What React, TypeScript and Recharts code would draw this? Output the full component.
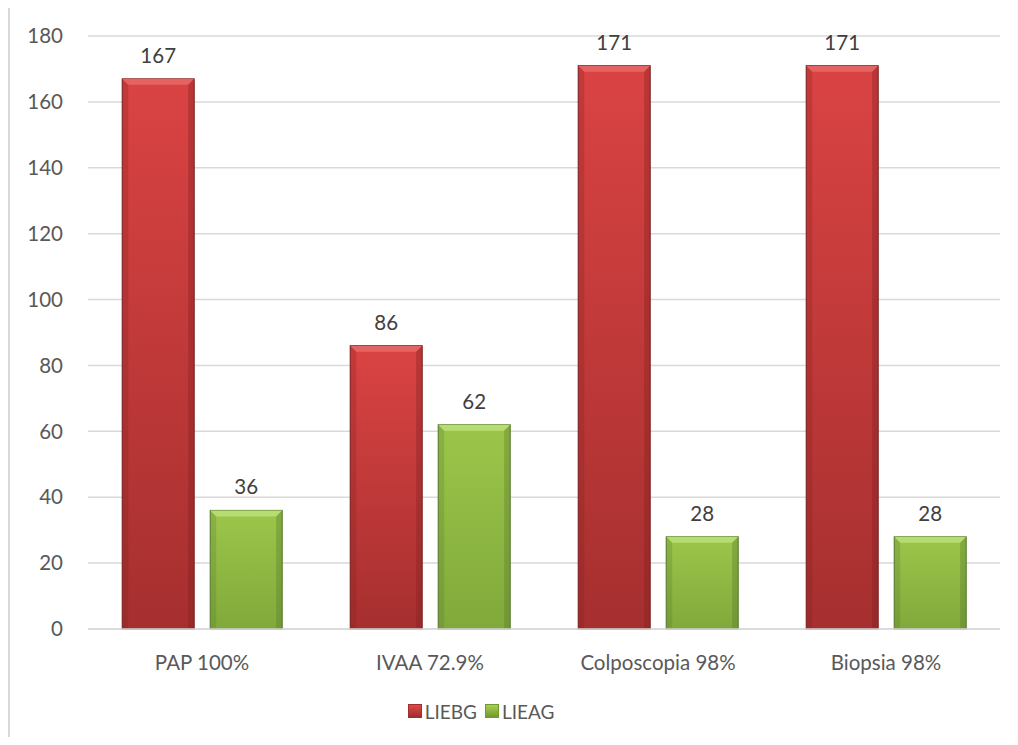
import { BarChart, Bar, XAxis, YAxis, CartesianGrid, LabelList, Legend } from 'recharts';

const categories = ['PAP 100%', 'IVAA 72.9%', 'Colposcopia 98%', 'Biopsia 98%'];
const liebg = [167, 86, 171, 171];
const lieag = [36, 62, 28, 28];
const yTicks = [0, 20, 40, 60, 80, 100, 120, 140, 160, 180];

const data = categories.map((name, i) => ({ name, LIEBG: liebg[i], LIEAG: lieag[i] }));

const FONT = 'Lato, "Open Sans", sans-serif';

// bevelled bar, like the office "soft edge" look
function BevelBar(props: any) {
  const { x, y, width, height, fill, light, dark } = props;
  if (!height || height <= 0) return null;
  const b = Math.min(6, height / 2);
  return (
    <g>
      <rect x={x} y={y} width={width} height={height} fill={fill} stroke={dark} strokeWidth={1} />
      <polygon points={`${x},${y} ${x + width},${y} ${x + width - b},${y + b} ${x + b},${y + b}`} fill={light} />
      <polygon points={`${x},${y} ${x + b},${y + b} ${x + b},${y + height} ${x},${y + height}`} fill={dark} opacity={0.25} />
      <polygon points={`${x + width},${y} ${x + width - b},${y + b} ${x + width - b},${y + height} ${x + width},${y + height}`} fill={dark} opacity={0.35} />
    </g>
  );
}

function LegendBox() {
  const item = (label: string, c1: string, c2: string) => (
    <span style={{ display: 'inline-flex', alignItems: 'center', marginRight: 8 }}>
      <span style={{ width: 12, height: 12, background: `linear-gradient(${c1}, ${c2})`, border: `1px solid ${c2}`, marginRight: 3, display: 'inline-block' }} />
      <span>{label}</span>
    </span>
  );
  return (
    <div style={{ textAlign: 'center', fontFamily: FONT, fontSize: 19, color: '#595959', paddingRight: 58 }}>
      {item('LIEBG', '#e04848', '#a02e2e')}
      {item('LIEAG', '#a8d050', '#6f9a2e')}
    </div>
  );
}

export default function App() {
  return (
    <div style={{ position: 'relative', margin: -8, width: 1018, height: 745, overflow: 'hidden', background: '#fff' }}>
      <div style={{ position: 'absolute', left: 8, top: 6, width: 1030, height: 760, border: '2px solid #d9d9d9', boxSizing: 'border-box' }} />
      <div style={{ position: 'absolute', left: 0, top: 0 }}>
        <BarChart width={1018} height={745} data={data} margin={{ top: 36, right: 18, left: 28, bottom: 6 }} barCategoryGap="15%" barGap={16}>
          <defs>
            <linearGradient id="gRed" x1="0" y1="0" x2="0" y2="1">
              <stop offset="0%" stopColor="#da4343" />
              <stop offset="100%" stopColor="#a62f2f" />
            </linearGradient>
            <linearGradient id="gGreen" x1="0" y1="0" x2="0" y2="1">
              <stop offset="0%" stopColor="#9cc64a" />
              <stop offset="100%" stopColor="#80a93b" />
            </linearGradient>
          </defs>
          <CartesianGrid vertical={false} stroke="#d9d9d9" strokeWidth={1.5} />
          <XAxis
            dataKey="name"
            axisLine={{ stroke: '#d9d9d9', strokeWidth: 1.5 }}
            tickLine={false}
            tickMargin={20}
            height={70}
            tick={{ fill: '#595959', fontSize: 20.5, fontFamily: FONT }}
          />
          <YAxis
            domain={[0, 180]}
            ticks={yTicks}
            width={60}
            axisLine={false}
            tickLine={false}
            tickSize={0}
            tickMargin={25}
            tick={{ fill: '#595959', fontSize: 20.5, fontFamily: FONT }}
          />
          <Legend verticalAlign="bottom" height={40} content={() => <LegendBox />} />
          <Bar dataKey="LIEBG" fill="url(#gRed)" isAnimationActive={false}
            shape={(p: any) => <BevelBar {...p} fill="url(#gRed)" light="#e46464" dark="#7a1f1f" />}>
            <LabelList dataKey="LIEBG" position="top" offset={16} fill="#404040" fontSize={20.5} fontFamily={FONT} />
          </Bar>
          <Bar dataKey="LIEAG" fill="url(#gGreen)" isAnimationActive={false}
            shape={(p: any) => <BevelBar {...p} fill="url(#gGreen)" light="#b8dc74" dark="#55762a" />}>
            <LabelList dataKey="LIEAG" position="top" offset={16} fill="#404040" fontSize={20.5} fontFamily={FONT} />
          </Bar>
        </BarChart>
      </div>
    </div>
  );
}
